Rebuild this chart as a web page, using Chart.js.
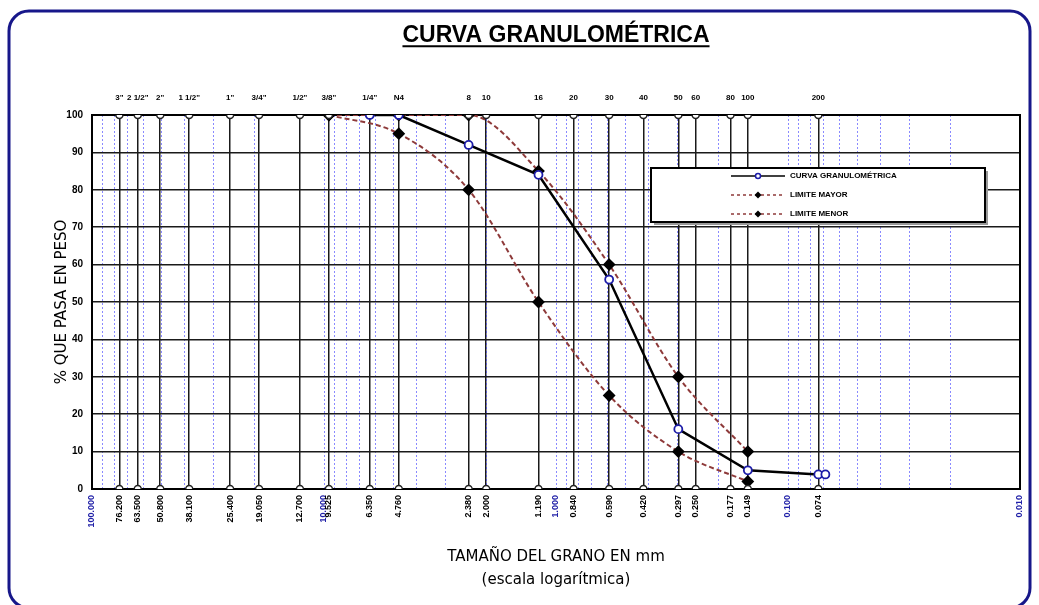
<!DOCTYPE html>
<html lang="es">
<head>
<meta charset="UTF-8">
<title>Curva granulométrica</title>
<script src="https://cdn.jsdelivr.net/npm/chart.js"></script>
<style>
  html, body { margin: 0; padding: 0; background: #fff; }
</style>
</head>
<body>
<canvas id="curva" width="1039" height="605"></canvas>

<script>
    // tamices (abertura en mm) y su nombre
    const sieveNames = ['3"', '2 1/2"', '2"', '1 1/2"', '1"', '3/4"', '1/2"', '3/8"', '1/4"', 'N4',
                        '8', '10', '16', '20', '30', '40', '50', '60', '80', '100', '200'];
    const sieveSizes = [76.2, 63.5, 50.8, 38.1, 25.4, 19.05, 12.7, 9.525, 6.35, 4.76,
                        2.38, 2.0, 1.19, 0.84, 0.59, 0.42, 0.297, 0.25, 0.177, 0.149, 0.074];
    const decades = [100, 10, 1, 0.1, 0.01];

    // curva del ensayo
    const curvaSize = [6.35, 4.76, 2.38, 1.19, 0.59, 0.297, 0.149, 0.074, 0.069];
    const curvaPasa = [100, 100, 92, 84, 56, 16, 5, 3.9, 3.9];

    // limites del huso
    const limSize  = [9.525, 4.76, 2.38, 1.19, 0.59, 0.297, 0.149];
    const limMayor = [100, 100, 100, 85, 60, 30, 10];
    const limMenor = [100, 95, 80, 50, 25, 10, 2];

    // lineas secundarias de la escala log (1..9 x 10^n)
    const minorSizes = [];
    for (let e = -2; e <= 1; e++) {
        for (let m = 1; m <= 9; m++) minorSizes.push(m * Math.pow(10, e));
    }

    const FONT = 'Liberation Sans';
    const BROWN = '#8e3a3a';

    const pts = (xs, ys) => xs.map((x, i) => ({ x: x, y: ys[i] }));

    const sieveMarks = [];
    sieveSizes.forEach(d => {
        sieveMarks.push({ x: d, y: 0 });
        sieveMarks.push({ x: d, y: 100 });
    });

    // marco redondeado y subrayado del titulo
    const framePlugin = {
        id: 'frame',
        beforeDraw(chart) {
            const ctx = chart.ctx;
            ctx.save();
            ctx.fillStyle = '#fff';
            ctx.fillRect(0, 0, chart.width, chart.height);
            ctx.strokeStyle = '#17178a';
            ctx.lineWidth = 3;
            ctx.beginPath();
            ctx.roundRect(9, 11, chart.width - 18, chart.height - 8, 20);
            ctx.stroke();
            ctx.restore();
        },
        afterDraw(chart) {
            const ctx = chart.ctx;
            const t = chart.titleBlock;
            const opts = chart.options.plugins.title;
            ctx.save();
            ctx.font = 'bold ' + opts.font.size + 'px "' + FONT + '"';
            const w = ctx.measureText(opts.text).width;
            const cx = (t.left + t.right) / 2;
            const cy = t.top + opts.padding.top + opts.font.size * 0.6 + 10.5;
            ctx.strokeStyle = '#000';
            ctx.lineWidth = 2;
            ctx.beginPath();
            ctx.moveTo(cx - w / 2, cy);
            ctx.lineTo(cx + w / 2, cy);
            ctx.stroke();
            ctx.restore();
        }
    };

    // leyenda dentro del area del grafico
    const legendBox = {
        id: 'legendBox',
        afterDraw(chart) {
            const ctx = chart.ctx;
            const ca = chart.chartArea;
            const x0 = ca.left + 559, y0 = ca.top + 53, w = 334, h = 54;
            ctx.save();
            ctx.fillStyle = '#999';
            ctx.fillRect(x0 + 3, y0 + 3, w, h);
            ctx.fillStyle = '#fff';
            ctx.fillRect(x0, y0, w, h);
            ctx.strokeStyle = '#000';
            ctx.lineWidth = 2;
            ctx.strokeRect(x0, y0, w, h);

            const items = [chart.data.datasets[0], chart.data.datasets[2], chart.data.datasets[3]];
            items.forEach((ds, i) => {
                const y = y0 + 8 + i * 19;
                const lx = x0 + 80;
                ctx.strokeStyle = ds.borderColor;
                ctx.lineWidth = 1.5;
                ctx.setLineDash(ds.borderDash ? [3, 3] : []);
                ctx.beginPath();
                ctx.moveTo(lx, y);
                ctx.lineTo(lx + 54, y);
                ctx.stroke();
                ctx.setLineDash([]);
                ctx.beginPath();
                if (ds.pointStyle === 'rectRot') {
                    ctx.fillStyle = '#000';
                    ctx.moveTo(lx + 27, y - 3.5);
                    ctx.lineTo(lx + 30.5, y);
                    ctx.lineTo(lx + 27, y + 3.5);
                    ctx.lineTo(lx + 23.5, y);
                    ctx.closePath();
                    ctx.fill();
                } else {
                    ctx.fillStyle = '#fff';
                    ctx.strokeStyle = ds.pointBorderColor;
                    ctx.arc(lx + 27, y, 2.5, 0, Math.PI * 2);
                    ctx.fill();
                    ctx.stroke();
                }
                ctx.fillStyle = '#000';
                ctx.font = 'bold 8px "' + FONT + '"';
                ctx.textBaseline = 'middle';
                ctx.fillText(ds.label, lx + 59, y);
            });
            ctx.restore();
        }
    };

    const ctxCurva = document.getElementById('curva').getContext('2d');

    const dataCurva = {
        datasets: [{
            label: 'CURVA GRANULOMÉTRICA',
            data: pts(curvaSize, curvaPasa),
            showLine: true,
            borderColor: '#000',
            borderWidth: 2.5,
            pointRadius: 4,
            pointBorderWidth: 1.8,
            pointBorderColor: '#1c1ca8',
            pointBackgroundColor: '#fff',
            xAxisID: 'x'
        }, {
            label: 'tamices',
            data: sieveMarks,
            showLine: false,
            pointRadius: 3.5,
            pointBorderWidth: 1.5,
            pointBorderColor: '#222',
            pointBackgroundColor: '#fff',
            xAxisID: 'x'
        }, {
            label: 'LIMITE MAYOR',
            data: pts(limSize, limMayor),
            showLine: true,
            borderColor: BROWN,
            borderWidth: 2,
            borderDash: [5, 3],
            cubicInterpolationMode: 'monotone',
            pointStyle: 'rectRot',
            pointRadius: 5,
            pointBackgroundColor: '#000',
            pointBorderColor: '#000',
            xAxisID: 'x'
        }, {
            label: 'LIMITE MENOR',
            data: pts(limSize, limMenor),
            showLine: true,
            borderColor: BROWN,
            borderWidth: 2,
            borderDash: [5, 3],
            cubicInterpolationMode: 'monotone',
            pointStyle: 'rectRot',
            pointRadius: 5,
            pointBackgroundColor: '#000',
            pointBorderColor: '#000',
            xAxisID: 'x'
        }]
    };

    const isDecade = v => decades.some(d => Math.abs(d - v) < 1e-9);

    const configCurva = {
        type: 'scatter',
        data: dataCurva,
        plugins: [framePlugin, legendBox],
        options: {
            responsive: false,
            animation: false,
            events: [],
            layout: { padding: { left: 20, right: 19, top: 10, bottom: 0 } },
            plugins: {
                title: {
                    display: true,
                    fullSize: false,
                    text: 'CURVA GRANULOMÉTRICA',
                    font: { family: FONT, size: 23, weight: 'bold' },
                    color: '#000',
                    padding: { top: 12, bottom: 0 }
                },
                legend: { display: false },
                tooltip: { enabled: false }
            },
            scales: {
                x: {
                    type: 'logarithmic',
                    position: 'bottom',
                    min: 0.01,
                    max: 100,
                    reverse: true,
                    weight: 1,
                    afterBuildTicks: ax => {
                        ax.ticks = sieveSizes.concat(decades).sort((a, b) => b - a).map(v => ({ value: v }));
                    },
                    afterFit: ax => { ax.height = 116; },
                    ticks: {
                        autoSkip: false,
                        minRotation: 90,
                        maxRotation: 90,
                        padding: 6,
                        font: { family: FONT, size: 9, weight: 'bold' },
                        color: c => isDecade(c.tick.value) ? '#2020a8' : '#000',
                        callback: v => Number(v).toFixed(3)
                    },
                    grid: {
                        color: c => (c.tick && isDecade(c.tick.value)) ? 'rgba(0,0,0,0)' : '#1a1a1a',
                        lineWidth: 1.5,
                        drawTicks: false
                    },
                    border: { color: '#000', width: 2 },
                    title: {
                        display: true,
                        text: ['TAMAÑO DEL GRANO EN mm', '(escala logarítmica)'],
                        font: { family: 'DejaVu Sans', size: 15, lineHeight: 1.5 },
                        color: '#000',
                        padding: { top: 0, bottom: 14 }
                    }
                },
                xMinor: {
                    type: 'logarithmic',
                    position: 'bottom',
                    min: 0.01,
                    max: 100,
                    reverse: true,
                    weight: 0,
                    z: -1,
                    afterBuildTicks: ax => {
                        ax.ticks = minorSizes.map(v => ({ value: v }));
                    },
                    afterFit: ax => { ax.height = 0; },
                    ticks: { display: false, autoSkip: false },
                    grid: { color: 'rgba(60,60,255,0.6)', lineWidth: 1, drawTicks: false },
                    border: { display: false, dash: [2, 2] }
                },
                xTop: {
                    type: 'logarithmic',
                    position: 'top',
                    min: 0.01,
                    max: 100,
                    reverse: true,
                    afterBuildTicks: ax => {
                        ax.ticks = sieveSizes.map(v => ({ value: v }));
                    },
                    afterFit: ax => { ax.height = 65.4; },
                    ticks: {
                        autoSkip: false,
                        minRotation: 0,
                        maxRotation: 0,
                        padding: 12,
                        font: { family: FONT, size: 8, weight: 'bold' },
                        color: '#000',
                        callback: v => sieveNames[sieveSizes.indexOf(v)]
                    },
                    grid: { display: false, drawTicks: false },
                    border: { display: true, color: '#000', width: 2 }
                },
                y: {
                    min: 0,
                    max: 100,
                    afterFit: ax => { ax.width = 72; },
                    ticks: {
                        stepSize: 10,
                        padding: 9,
                        font: { family: FONT, size: 10, weight: 'bold' },
                        color: '#000'
                    },
                    grid: { color: '#1a1a1a', lineWidth: 1.5, drawTicks: false },
                    border: { color: '#000', width: 2 },
                    title: {
                        display: true,
                        text: '% QUE PASA EN PESO',
                        font: { family: 'DejaVu Sans', size: 15 },
                        color: '#000',
                        padding: { top: 33, bottom: 0 }
                    }
                },
                yRight: {
                    position: 'right',
                    min: 0,
                    max: 100,
                    afterFit: ax => { ax.width = 0; },
                    ticks: { display: false },
                    grid: { display: false, drawTicks: false },
                    border: { color: '#000', width: 2 }
                }
            }
        }
    };

    const chartCurva = new Chart(ctxCurva, configCurva);
</script>
</body>
</html>
